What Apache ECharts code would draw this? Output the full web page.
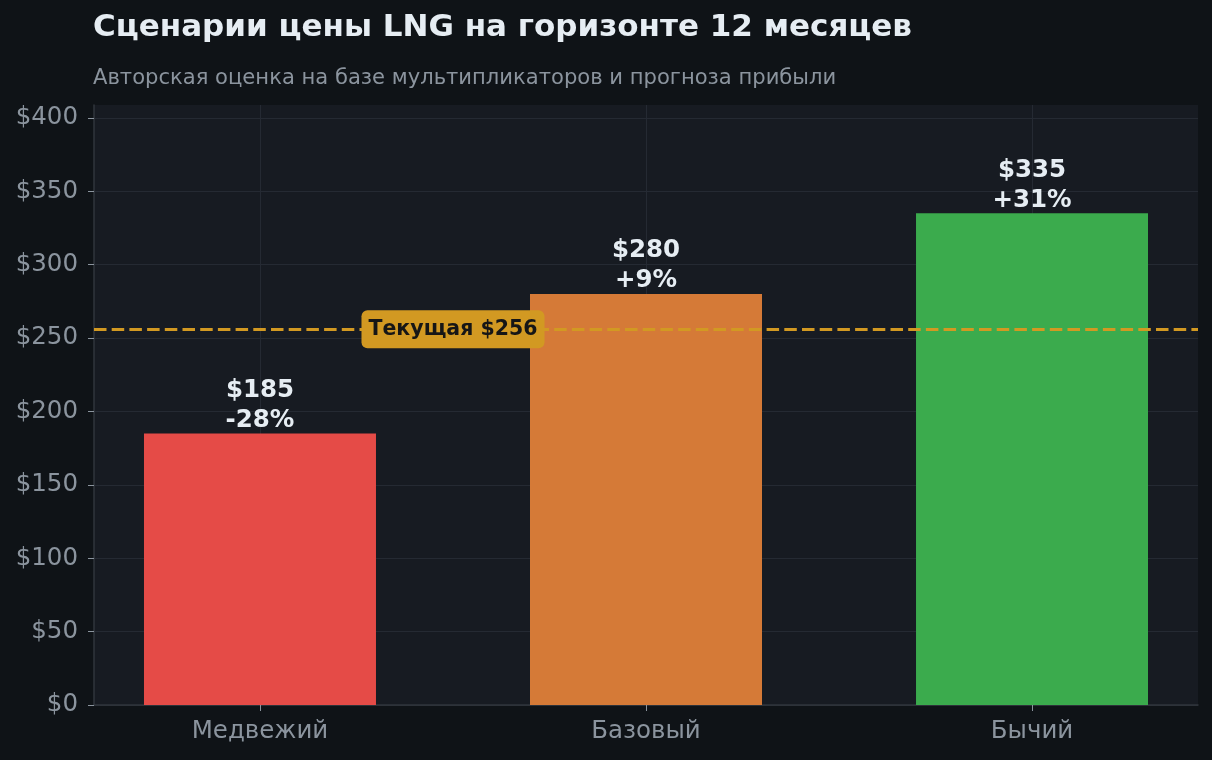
<!DOCTYPE html>
<html>
<head>
<meta charset="utf-8">
<script src="https://cdn.jsdelivr.net/npm/echarts@6/dist/echarts.min.js"></script>
<style>
  html, body { margin: 0; padding: 0; background: #0f1317; }
  #chart { width: 1212px; height: 760px; }
</style>
</head>
<body>
<div id="chart"></div>
<script>
// данные сценариев
var scenarios = ['Медвежий', 'Базовый', 'Бычий'];
var targets = [185, 280, 335];
var barColors = ['#e54b47', '#d57a37', '#3bab4d'];
var currentPrice = 256;
var yTicks = [0, 50, 100, 150, 200, 250, 300, 350, 400];
var xPos = [0, 1, 2];

var FONT = 'DejaVu Sans';
var chart = echarts.init(document.getElementById('chart'));

var barData = targets.map(function (v, i) {
    return {
        value: [xPos[i], v],
        itemStyle: { color: barColors[i] }
    };
});

function pctText(v) {
    var p = Math.round((v - currentPrice) / currentPrice * 100);
    return (p > 0 ? '+' : '') + p + '%';
}

var option = {
    backgroundColor: '#0f1317',
    textStyle: { fontFamily: FONT },
    title: {
        text: 'Сценарии цены LNG на горизонте 12 месяцев',
        subtext: 'Авторская оценка на базе мультипликаторов и прогноза прибыли',
        left: 93,
        top: 12,
        padding: 0,
        itemGap: 25,
        textStyle: {
            color: '#e6edf3',
            fontFamily: FONT,
            fontSize: 31,
            fontWeight: 'bold'
        },
        subtextStyle: {
            color: '#8b949e',
            fontFamily: FONT,
            fontSize: 21.1
        }
    },
    grid: {
        left: 94,
        right: 14,
        top: 105,
        bottom: 55,
        show: true,
        backgroundColor: '#171b22',
        borderWidth: 0
    },
    xAxis: {
        type: 'value',
        min: -0.43,
        max: 2.43,
        axisLine: { show: true, onZero: false, lineStyle: { color: '#30363d', width: 1.5 } },
        axisTick: {
            show: true,
            customValues: xPos,
            length: 6,
            lineStyle: { color: '#8b949e' }
        },
        axisLabel: {
            customValues: xPos,
            color: '#8b949e',
            fontFamily: FONT,
            fontSize: 24.5,
            margin: 14,
            formatter: function (v) { return scenarios[Math.round(v)]; }
        },
        splitLine: { show: true, lineStyle: { color: '#252a33', width: 1 } }
    },
    yAxis: {
        type: 'value',
        min: 0,
        max: 408.7,
        axisLine: { show: true, onZero: false, lineStyle: { color: '#30363d', width: 1.5 } },
        axisTick: {
            show: true,
            customValues: yTicks,
            length: 6,
            lineStyle: { color: '#8b949e' }
        },
        axisLabel: {
            customValues: yTicks,
            color: '#8b949e',
            fontFamily: FONT,
            fontSize: 24.5,
            margin: 16,
            padding: [6, 0, 0, 0],
            formatter: function (v) { return '$' + v; }
        },
        splitLine: { show: true, lineStyle: { color: '#252a33', width: 1 } }
    },
    series: [{
        type: 'bar',
        data: barData,
        barWidth: 232,
        label: {
            show: true,
            position: 'top',
            distance: -2,
            color: '#e6edf3',
            fontFamily: FONT,
            fontSize: 24.5,
            fontWeight: 'bold',
            lineHeight: 30,
            formatter: function (p) {
                return '$' + p.value[1] + '\n' + pctText(p.value[1]);
            }
        },
        markLine: {
            silent: true,
            symbol: 'none',
            label: { show: false },
            lineStyle: { color: '#d29922', type: [12.5, 5.2], width: 2.8, opacity: 1 },
            data: [{ yAxis: currentPrice }]
        },
        markPoint: {
            silent: true,
            symbol: 'rect',
            symbolSize: 0,
            data: [{ coord: [0.5, currentPrice] }],
            label: {
                show: true,
                position: 'inside',
                formatter: 'Текущая $' + currentPrice,
                backgroundColor: '#d29922',
                borderRadius: 6,
                padding: [9, 7, 8, 7],
                color: '#161616',
                fontFamily: FONT,
                fontSize: 20.5,
                fontWeight: 'bold'
            }
        }
    }]
};

chart.setOption(option);
</script>
</body>
</html>
